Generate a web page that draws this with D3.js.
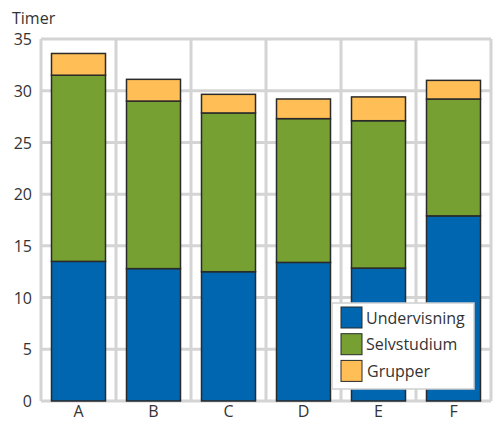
<!DOCTYPE html>
<html><head><meta charset="utf-8">
<script src="https://cdn.jsdelivr.net/npm/d3@7"></script>
<style>body{margin:0;background:#fff}svg{display:block}text{font-family:"Open Sans","Noto Sans",sans-serif;fill:#333}</style>
</head><body><svg id="c" width="498" height="423"></svg>
<script>
const categories = ["A","B","C","D","E","F"];
const undervisning = [13.5, 12.8, 12.5, 13.4, 12.85, 17.9];
const selvstudium = [18.0, 16.2, 15.35, 13.9, 14.25, 11.3];
const grupper = [2.1, 2.1, 1.8, 1.9, 2.3, 1.8];
const seriesNames = ["Undervisning","Selvstudium","Grupper"];
const colors = ["#0066b0","#76a032","#ffbf56"];
const yTicks = [0,5,10,15,20,25,30,35];
const yLabel = "Timer";

const rows = categories.map((c,i)=>({cat:c, Undervisning:undervisning[i], Selvstudium:selvstudium[i], Grupper:grupper[i]}));
const stack = d3.stack().keys(seriesNames)(rows);

const svg = d3.select("#c");
const pL=41, pR=491, pT=39, pB=401;
const x = d3.scaleBand().domain(categories).range([pL,pR]).paddingInner(0).paddingOuter(0);
const y = d3.scaleLinear().domain([0,35]).range([pB,pT]);

const grid = svg.append("g").attr("stroke","#d4d4d4").attr("stroke-width",3);
grid.selectAll("line.h").data(yTicks).join("line").attr("class","h")
  .attr("x1",pL).attr("x2",pR).attr("y1",d=>y(d)).attr("y2",d=>y(d));
const vEdges = categories.map(c=>x(c)).concat([pR]);
grid.selectAll("line.v").data(vEdges).join("line").attr("class","v")
  .attr("x1",d=>d).attr("x2",d=>d).attr("y1",pT).attr("y2",pB);

const bw = 54;
svg.append("g").selectAll("g").data(stack).join("g")
  .attr("fill",(d,i)=>colors[i])
  .selectAll("rect").data(d=>d).join("rect")
  .attr("x",d=>x(d.data.cat)+x.bandwidth()/2-bw/2)
  .attr("width",bw)
  .attr("y",d=>y(d[1]))
  .attr("height",d=>y(d[0])-y(d[1]))
  .attr("stroke","#2a2a2a").attr("stroke-width",1.5);

const yAxis = d3.axisLeft(y).tickValues(yTicks).tickSize(0).tickPadding(8);
const gy = svg.append("g").attr("transform",`translate(${pL-1},0)`).call(yAxis);
gy.select(".domain").remove();
gy.selectAll("text").style("font-size","16px").attr("fill","#333").attr("dy","0.35em");

const xAxis = d3.axisBottom(x).tickSize(0).tickPadding(5);
const gx = svg.append("g").attr("transform",`translate(0,${pB})`).call(xAxis);
gx.select(".domain").remove();
gx.selectAll("text").style("font-size","16px").attr("fill","#333");

svg.append("text").attr("x",12).attr("y",24).style("font-size","16px").text(yLabel);

const lg = svg.append("g").attr("transform","translate(332,303)");
lg.append("rect").attr("width",142).attr("height",86).attr("fill","#fff").attr("stroke","#cfcfcf").attr("stroke-width",1.5);
const items = lg.selectAll("g").data(seriesNames).join("g")
  .attr("transform",(d,i)=>`translate(9,${4+i*26.7})`);
items.append("rect").attr("width",21).attr("height",21).attr("fill",(d,i)=>colors[i]).attr("stroke","#2a2a2a").attr("stroke-width",1);
items.append("text").attr("x",(d,i)=>i===2?26:25).attr("y",11).attr("dy","0.35em").style("font-size","16px").text(d=>d);
</script></body></html>
